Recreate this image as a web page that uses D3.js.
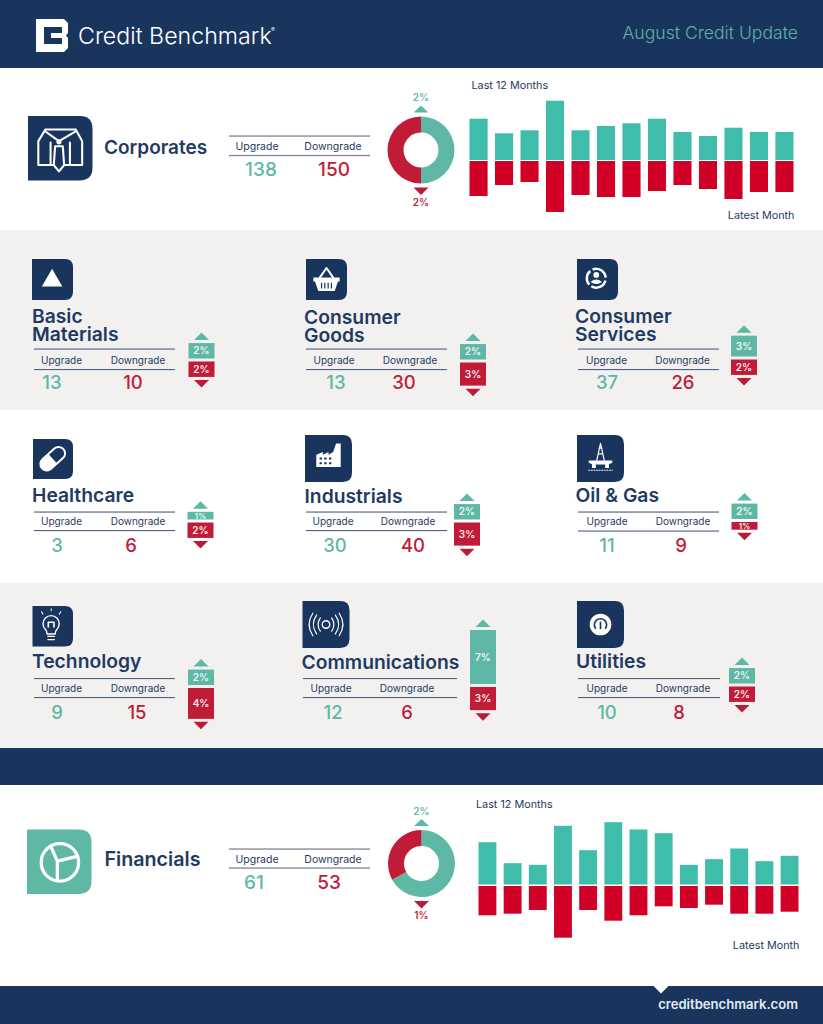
<!DOCTYPE html>
<html>
<head>
<meta charset="utf-8">
<script src="https://cdn.jsdelivr.net/npm/d3@7"></script>
<style>
  html, body { margin: 0; padding: 0; background: #fff; }
  svg { display: block; }
  text { font-family: Inter, Roboto, sans-serif; }
</style>
</head>
<body>
<div id="chart"></div>
<script>
// values
const corpUp = [41.3, 26.7, 29.7, 59.3, 29.7, 34, 36.7, 41.3, 28, 24, 32.3, 28, 28];
const corpDown = [35, 24, 21, 51, 34, 36, 36, 30, 24, 28, 38, 31, 31];
const finUp = [42.3, 21.3, 19.7, 58.7, 34.3, 62.3, 55, 51.3, 19.7, 25.3, 36, 23.3, 28.7];
const finDown = [29.3, 27.7, 24, 51.7, 24, 34.7, 29.3, 20.3, 22, 18.7, 27.7, 27.7, 25.7];
const corpShare = [50, 50];
const finShare = [67, 33];

const sectorNames = [["Basic", "Materials"], ["Consumer", "Goods"], ["Consumer", "Services"],
  ["Healthcare"], ["Industrials"], ["Oil & Gas"],
  ["Technology"], ["Communications"], ["Utilities"]];
const sectorUpgrades = [13, 13, 37, 3, 30, 11, 9, 12, 10];
const sectorDowngrades = [10, 30, 26, 6, 40, 9, 15, 6, 8];
const sectorUpPct = [2, 2, 2.7, 1, 2, 2, 2, 7, 2];
const sectorDownPct = [2, 3, 2, 2, 3, 1, 4, 3, 2];

const navy = "#19355e", titleNavy = "#1f3a63", teal = "#5fb8a6", barTeal = "#3fbcaa";
const red = "#c01c38", barRed = "#d10026", grey = "#f2f1ef";

// where each sector block sits on the page
const layout = [
  {icon: [32, 259, 41], glyph: "triangle", tx: 32, ty: 323, rx: 34, rw: 141, r1: 349, r2: 369.5, lb: 364, lu: 61.5, ld: 138, nu: 52, nd: 133, nb: 389, px: 201.5, py: 360},
  {icon: [306, 259, 41], glyph: "basket", tx: 304, ty: 324, rx: 306, rw: 141, r1: 349, r2: 369.5, lb: 364, lu: 334, ld: 410, nu: 336, nd: 404, nb: 389, px: 473, py: 361},
  {icon: [577, 259, 41], glyph: "service", tx: 575, ty: 323, rx: 578, rw: 141, r1: 349, r2: 369.5, lb: 364, lu: 606.5, ld: 682.5, nu: 607, nd: 683, nb: 389, px: 744, py: 358},
  {icon: [33, 439, 40], glyph: "pill", tx: 32, ty: 502, rx: 34, rw: 141, r1: 512, r2: 530.5, lb: 525, lu: 61.5, ld: 138, nu: 57, nd: 131, nb: 552, px: 200.5, py: 521},
  {icon: [305, 435, 47], glyph: "factory", tx: 304.5, ty: 503, rx: 306, rw: 141, r1: 512, r2: 530.5, lb: 525, lu: 333, ld: 408, nu: 335, nd: 413, nb: 552, px: 467, py: 521},
  {icon: [577, 435, 47], glyph: "rig", tx: 575.5, ty: 502, rx: 578, rw: 141, r1: 512, r2: 531, lb: 525, lu: 607, ld: 683, nu: 607, nd: 681, nb: 552, px: 744.5, py: 520.5},
  {icon: [32.5, 606, 40.5], glyph: "bulb", tx: 32, ty: 668, rx: 34, rw: 141, r1: 678.5, r2: 697.5, lb: 692, lu: 61.5, ld: 138, nu: 57, nd: 137, nb: 719, px: 201, py: 686.5},
  {icon: [302.5, 601, 47], glyph: "waves", tx: 301.5, ty: 669, rx: 303, rw: 154, r1: 678.5, r2: 697.5, lb: 692, lu: 331, ld: 407, nu: 333, nd: 407, nb: 719, px: 483, py: 685.5},
  {icon: [577, 601, 47], glyph: "utility", tx: 576, ty: 668, rx: 578, rw: 142, r1: 678.5, r2: 697.5, lb: 692, lu: 607, ld: 683, nu: 607, nd: 679, nb: 719, px: 742, py: 685}
];

const svg = d3.select("#chart").append("svg").attr("width", 823).attr("height", 1024);

function band(y0, y1, fill) {
  svg.append("rect").attr("x", 0).attr("y", y0).attr("width", 823).attr("height", y1 - y0).attr("fill", fill);
}
function label(g, txt, x, y, size, fill, anchor, weight) {
  return g.append("text").attr("x", x).attr("y", y).attr("font-size", size).attr("fill", fill)
    .attr("text-anchor", anchor || "start").attr("font-weight", weight || 400).text(txt);
}
function tri(g, cx, tipY, baseY, half, fill) {
  g.append("path").attr("d", d3.line()([[cx - half, baseY], [cx + half, baseY], [cx, tipY]]) + "Z").attr("fill", fill);
}

band(0, 68, navy);
band(230, 410, grey);
band(583, 748, grey);
band(748, 785, navy);
band(986, 1024, navy);

// header, footer
svg.append("path").attr("fill", "#fff").attr("fill-rule", "evenodd")
  .attr("d", "M36 19H64L68 23V33L66 35.5L68 38V48L64 52H36Z M44 27V44H62V38H51V33H62V27Z");
label(svg, "Credit Benchmark", 78, 44, 23.2, "#fff", "start", 300);
label(svg, "®", 271, 32, 5.5, "#fff");
label(svg, "August Credit Update", 798, 38.5, 17.6, "#5fb0a6", "end", 300);
tri(svg, 661, 993.5, 986, 7.5, "#fff");
label(svg, "creditbenchmark.com", 798, 1009, 13.1, "#e4ebf2", "end", 600);

// icon box: square left corners, rounded right ones
function iconBox(x, y, s, fill, glyph) {
  const g = svg.append("g").attr("transform", `translate(${x},${y}) scale(${s / 100})`);
  g.append("path").attr("fill", fill).attr("d", "M0 0H80Q100 0 100 20V80Q100 100 80 100H0Z");
  drawGlyph(g, glyph, fill);
}

function drawGlyph(g, name, bg) {
  const stroke = (d, w) => g.append("path").attr("d", d).attr("fill", "none").attr("stroke", "#fff").attr("stroke-width", w).attr("stroke-linejoin", "round").attr("stroke-linecap", "round");
  const fill = d => g.append("path").attr("d", d).attr("fill", "#fff");
  if (name === "triangle") fill("M24 67L49 24L74 67Z");
  if (name === "basket") {
    fill("M18 45H82V55H78L70 78H30L22 55H18Z");
    stroke("M34 45L50 22L66 45", 5);
    g.append("path").attr("d", "M38 58V72M46 58V72M54 58V72M62 58V72").attr("stroke", bg).attr("stroke-width", 3);
  }
  if (name === "service") {
    const ring = d3.arc().innerRadius(20).outerRadius(26);
    [[-0.4, 1.5], [1.8, 3.7], [3.98, 5.6]].forEach(a => {
      g.append("path").attr("transform", "translate(47,47)").attr("fill", "#fff")
        .attr("d", ring({startAngle: a[0], endAngle: a[1]}));
    });
    g.append("circle").attr("cx", 47).attr("cy", 39).attr("r", 7).attr("fill", "#fff");
    fill("M33 56Q47 44 61 56Q47 66 33 56Z");
  }
  if (name === "pill") {
    g.append("g").attr("transform", "rotate(-42 50 50)").call(p => {
      p.append("rect").attr("x", 14).attr("y", 33).attr("width", 72).attr("height", 32).attr("rx", 16).attr("fill", "none").attr("stroke", "#fff").attr("stroke-width", 5);
      p.append("path").attr("d", "M50 33H30A16 16 0 0 0 30 65H50Z").attr("fill", "#fff");
    });
  }
  if (name === "factory") {
    fill("M24 42L38 36V42L50 36V42L60 36L66 18H76V68H24Z");
    g.append("path").attr("d", "M31 50H56M31 60H56").attr("stroke", bg).attr("stroke-width", 4).attr("stroke-dasharray", "5 5");
  }
  if (name === "rig") {
    stroke("M50 18L42 54M50 18L58 54M45 40H55M47 28H53", 2.5);
    fill("M25 54H75V59L68 62V70H60V63H40V70H32V62L25 59Z");
    g.append("path").attr("d", "M24 75H76").attr("stroke", "#fff").attr("stroke-width", 2).attr("stroke-dasharray", "4 1.5");
  }
  if (name === "bulb") {
    stroke("M36 69Q36 62 32 58A20 20 0 1 1 60 58Q56 62 56 69Z", 3.5);
    stroke("M39 52V40H53V52", 4);
    stroke("M38 75H54M38 83H54", 3.5);
    stroke("M22 14L26 20M46 7V12M70 14L66 20", 2.5);
  }
  if (name === "waves") {
    g.append("circle").attr("cx", 50).attr("cy", 50).attr("r", 8).attr("fill", "none").attr("stroke", "#fff").attr("stroke-width", 3);
    stroke("M38 36Q28 50 38 64M62 36Q72 50 62 64M30 30Q16 50 30 70M70 30Q84 50 70 70M22 26Q6 50 22 74M78 26Q94 50 78 74", 2.5);
  }
  if (name === "utility") {
    g.append("circle").attr("cx", 50).attr("cy", 50).attr("r", 23).attr("fill", "#fff");
    g.append("path").attr("d", "M40 59A13 13 0 1 1 60 59").attr("fill", "none").attr("stroke", bg).attr("stroke-width", 3.5);
    g.append("path").attr("d", "M50 60V44").attr("stroke", bg).attr("stroke-width", 3.5);
  }
  if (name === "shirt") {
    stroke("M27 21H74M27 24L48 39L74 24M27 21L16 39V76H40M74 21L84 39V76H56M35 41V76M65 41V76", 3.2);
    stroke("M42 47H54L56 76L48 86L40 76Z", 3.2);
    g.append("circle").attr("cx", 48).attr("cy", 40).attr("r", 4).attr("fill", "#fff");
  }
  if (name === "pie") {
    g.append("circle").attr("cx", 51).attr("cy", 51).attr("r", 29).attr("fill", "none").attr("stroke", "#fff").attr("stroke-width", 5);
    stroke("M47 49L37 26M47 49L76 42M47 49V76", 5);
  }
}

const barY = d3.scaleLinear().domain([0, 65]).range([0, 65]);
const pctY = d3.scaleLinear().domain([0, 7]).range([0, 54]);
const pie = d3.pie().sort(null);

// the two big rows share this
function bigRow(o) {
  const g = svg.append("g");
  iconBox(o.ix, o.iy, o.is, o.icolor, o.glyph);
  label(g, o.title, o.tx, o.ty, o.tsize, titleNavy, "start", 600);
  [o.r1, o.r2].forEach(r => g.append("rect").attr("x", 229).attr("y", r - 0.6).attr("width", 141).attr("height", 1.3).attr("fill", "#7b8799"));
  label(g, "Upgrade", 257, o.lb, 10.5, titleNavy, "middle");
  label(g, "Downgrade", 333, o.lb, 10.5, titleNavy, "middle");
  label(g, o.up, o.nu, o.nb, 19, teal, "middle", 500);
  label(g, o.down, o.nd, o.nb, 19, red, "middle", 500);

  const arc = d3.arc().innerRadius(17.5).outerRadius(33.5);
  g.append("g").attr("transform", `translate(${o.cx},${o.cy})`).selectAll("path")
    .data(pie(o.share)).join("path").attr("d", arc).attr("fill", (d, i) => i ? red : teal);
  tri(g, o.cx, o.cy - 44.5, o.cy - 37.5, 7.5, teal);
  tri(g, o.cx, o.cy + 45, o.cy + 37.5, 7.5, "#b81c36");
  label(g, "2%", o.cx, o.cy - 49, 10, teal, "middle", 600);
  label(g, o.downLabel, o.cx, o.cy + 55.5, 10, red, "middle", 600);

  const x = d3.scaleBand().domain(d3.range(o.upVals.length)).range([o.x0, o.x1]).paddingInner(0.29);
  g.selectAll(".up").data(o.upVals).join("rect").attr("class", "up")
    .attr("x", (d, i) => x(i)).attr("width", x.bandwidth())
    .attr("y", d => o.base - barY(d)).attr("height", d => barY(d)).attr("fill", barTeal);
  g.selectAll(".down").data(o.downVals).join("rect").attr("class", "down")
    .attr("x", (d, i) => x(i)).attr("width", x.bandwidth())
    .attr("y", o.base + o.gap).attr("height", d => barY(d)).attr("fill", barRed);
  label(g, "Last 12 Months", o.lx, o.ly, 10.8, titleNavy);
  label(g, "Latest Month", o.x1 + 1, o.my, 10.8, titleNavy, "end");
}

bigRow({ix: 28, iy: 116, is: 64.5, icolor: navy, glyph: "shirt", title: "Corporates", tx: 104, ty: 153.5, tsize: 19,
  r1: 136, r2: 155.5, lb: 150, up: 138, down: 150, nu: 261, nd: 334, nb: 176, cx: 421, cy: 150, share: corpShare, downLabel: "2%",
  upVals: corpUp, downVals: corpDown, x0: 469.5, x1: 793.5, base: 160, gap: 1, lx: 471.5, ly: 89, my: 219});
bigRow({ix: 27, iy: 829.5, is: 64.5, icolor: teal, glyph: "pie", title: "Financials", tx: 104.5, ty: 866, tsize: 19.7,
  r1: 849, r2: 868, lb: 863, up: 61, down: 53, nu: 254, nd: 329, nb: 889, cx: 421.5, cy: 863.5, share: finShare, downLabel: "1%",
  upVals: finUp, downVals: finDown, x0: 478.5, x1: 798.5, base: 884.5, gap: 1.5, lx: 476, ly: 808, my: 949});

// sector blocks
sectorNames.forEach((name, i) => {
  const l = layout[i];
  const g = svg.append("g");
  iconBox(l.icon[0], l.icon[1], l.icon[2], navy, l.glyph);
  const title = g.append("text").attr("font-size", 19.3).attr("font-weight", 600).attr("fill", titleNavy);
  name.forEach((line, k) => title.append("tspan").attr("x", l.tx).attr("y", l.ty + k * 18).text(line));
  [l.r1, l.r2].forEach(r => g.append("rect").attr("x", l.rx).attr("y", r - 0.5).attr("width", l.rw).attr("height", 1.1).attr("fill", "#4f6180"));
  label(g, "Upgrade", l.lu, l.lb, 10, titleNavy, "middle");
  label(g, "Downgrade", l.ld, l.lb, 10, titleNavy, "middle");
  label(g, sectorUpgrades[i], l.nu, l.nb, 18.5, teal, "middle", 500);
  label(g, sectorDowngrades[i], l.nd, l.nb, 18.5, red, "middle", 500);

  const upH = pctY(sectorUpPct[i]), downH = pctY(sectorDownPct[i]);
  g.append("rect").attr("x", l.px - 13).attr("y", l.py - 1.5 - upH).attr("width", 26).attr("height", upH).attr("fill", teal);
  g.append("rect").attr("x", l.px - 13).attr("y", l.py + 1.5).attr("width", 26).attr("height", downH).attr("fill", red);
  tri(g, l.px, l.py - 1.5 - upH - 10.5, l.py - 1.5 - upH - 3, 7.5, teal);
  tri(g, l.px, l.py + 1.5 + downH + 10.5, l.py + 1.5 + downH + 3, 7.5, "#b81c36");
  const small = v => Math.round(v) === 1;
  label(g, Math.round(sectorUpPct[i]) + "%", l.px, l.py - 1.5 - upH / 2 + (small(sectorUpPct[i]) ? 3 : 3.5), small(sectorUpPct[i]) ? 8 : 10, "#eef7f5", "middle", 600);
  label(g, Math.round(sectorDownPct[i]) + "%", l.px, l.py + 1.5 + downH / 2 + (small(sectorDownPct[i]) ? 3 : 3.5), small(sectorDownPct[i]) ? 8 : 10, "#fbeef0", "middle", 600);
});
</script>
</body>
</html>
